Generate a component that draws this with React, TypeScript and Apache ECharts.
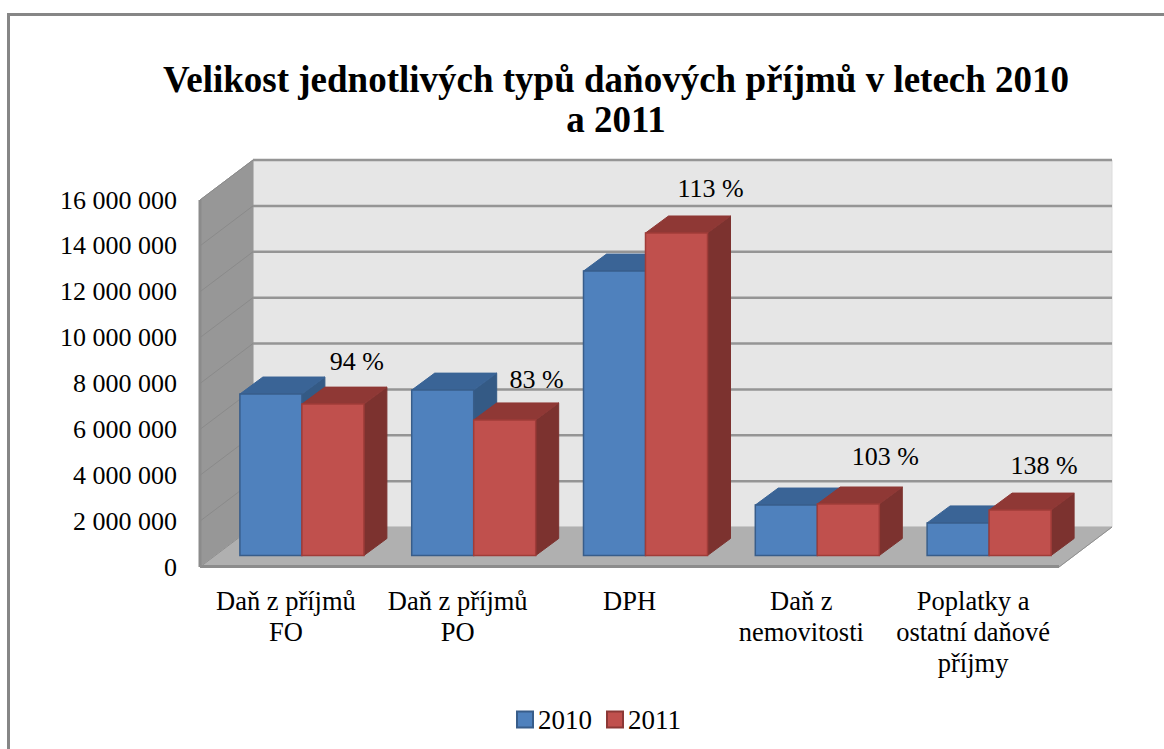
import React, { useEffect, useRef } from "react";
import * as echarts from "echarts";

const titleText = "Velikost jednotlivých typů daňových příjmů v letech 2010\na 2011";
const categories = ["Daň z příjmů\nFO", "Daň z příjmů\nPO", "DPH", "Daň z\nnemovitosti", "Poplatky a\nostatní daňové\npříjmy"];
const values2010 = [7040000, 7210000, 12400000, 2200000, 1420000];
const values2011 = [6600000, 5910000, 14060000, 2245000, 1980000];
const ratioLabels = ["94 %", "83 %", "113 %", "103 %", "138 %"];
const tickValues = [2000000, 4000000, 6000000, 8000000, 10000000, 12000000, 14000000, 16000000];

const labelOffsets = [[24, -43], [32, -40], [34, -44], [37, -48], [24, -45]];
const SERIF = "'Liberation Serif', 'Times New Roman', serif";
const BACK = { x: 53, y: -40 };
const PLANE = { x: 16, y: -11.5 };
const DEPTH = { x: 23, y: -17 };
const BAR_W = 62;

const fmt = (v: number) => String(v).replace(/\B(?=(\d{3})+$)/g, " ");

const poly = (points: number[][], fill: string, stroke?: string, lineWidth = 1) => ({
  type: "polygon",
  shape: { points },
  style: { fill, stroke: stroke || fill, lineWidth },
});

const wallItem = (params: any, api: any) => {
  const cs = params.coordSys;
  const l = cs.x, r = cs.x + cs.width, t = cs.y, b = cs.y + cs.height;
  const dx = BACK.x, dy = BACK.y;
  return {
    type: "group",
    children: [
      poly([[l + dx, t + dy], [r + dx, t + dy], [r + dx, b + dy], [l + dx, b + dy]], "#e6e6e6", "#dcdcdc"),
      poly([[l, t], [l + dx, t + dy], [l + dx, b + dy], [l, b]], "#979797", "#979797"),
      { type: "line", shape: { x1: l, y1: t, x2: l, y2: b }, style: { stroke: "#8b8b8b", lineWidth: 3 } },
      poly([[l, b], [l + dx, b + dy], [r + dx, b + dy], [r, b]], "#b0b0b0", "#b0b0b0"),
      { type: "line", shape: { x1: l, y1: b - 0.5, x2: r, y2: b - 0.5 }, style: { stroke: "#8c8c8c", lineWidth: 3 } },
      { type: "line", shape: { x1: l, y1: b, x2: l + dx, y2: b + dy }, style: { stroke: "#8f8f8f", lineWidth: 1 } },
      { type: "line", shape: { x1: r, y1: b, x2: r + dx, y2: b + dy }, style: { stroke: "#8f8f8f", lineWidth: 1 } },
    ],
  };
};

const gridItem = (params: any, api: any) => {
  const cs = params.coordSys;
  const p = api.coord([0, api.value(1)]);
  const l = cs.x, r = cs.x + cs.width, y = p[1];
  return {
    type: "group",
    children: [
      { type: "line", shape: { x1: l, y1: y, x2: l + BACK.x, y2: y + BACK.y }, style: { stroke: "#8a8a8a", lineWidth: 1 } },
      { type: "line", shape: { x1: l + BACK.x, y1: y + BACK.y, x2: r + BACK.x, y2: y + BACK.y }, style: { stroke: "#959595", lineWidth: 2.5 } },
    ],
  };
};

const barItem = (side: number, front: string, edge: string, top: string, flank: string) => (params: any, api: any) => {
  const c = api.coord([api.value(0), api.value(1)]);
  const z = api.coord([api.value(0), 0]);
  const x0 = c[0] + PLANE.x + (side < 0 ? -BAR_W : 0);
  const x1 = x0 + BAR_W;
  const yT = c[1] + PLANE.y;
  const yB = z[1] + PLANE.y;
  return {
    type: "group",
    children: [
      poly([[x1, yT], [x1 + DEPTH.x, yT + DEPTH.y], [x1 + DEPTH.x, yB + DEPTH.y], [x1, yB]], flank),
      poly([[x0, yT], [x0 + DEPTH.x, yT + DEPTH.y], [x1 + DEPTH.x, yT + DEPTH.y], [x1, yT]], top),
      poly([[x0, yT], [x1, yT], [x1, yB], [x0, yB]], front, edge, 1.5),
    ],
  };
};

const labelItem = (params: any, api: any) => {
  const i = params.dataIndex;
  const c = api.coord([api.value(0), api.value(1)]);
  return {
    type: "text",
    x: c[0] + PLANE.x + BAR_W / 2 + labelOffsets[i][0],
    y: c[1] + PLANE.y + labelOffsets[i][1],
    style: {
      text: ratioLabels[i],
      fontFamily: SERIF,
      fontSize: 26,
      fill: "#000",
      align: "center",
      verticalAlign: "middle",
    },
  };
};

export default function App() {
  const ref = useRef<HTMLDivElement>(null);
  useEffect(() => {
    const chart = echarts.init(ref.current!, null, { renderer: "svg" });
    const idx = categories.map((_, i) => i);
    chart.setOption({
      animation: false,
      backgroundColor: "#ffffff",
      title: {
        text: titleText,
        left: 611,
        top: 54,
        textAlign: "center",
        textStyle: { fontFamily: SERIF, fontWeight: "bold", fontSize: 37, lineHeight: 40, color: "#000" },
      },
      legend: {
        data: ["2010", "2011"],
        left: 511,
        top: 701,
        itemWidth: 16,
        itemHeight: 16,
        itemGap: 14,
        icon: "rect",
        textStyle: { fontFamily: SERIF, fontSize: 27, color: "#000" },
      },
      grid: { left: 200, top: 200, width: 859, height: 367, containLabel: false },
      xAxis: {
        type: "category",
        data: categories,
        axisLine: { show: false },
        axisTick: { show: false },
        axisLabel: { interval: 0, margin: 18, fontFamily: SERIF, fontSize: 26.5, lineHeight: 31, color: "#000" },
      },
      yAxis: {
        type: "value",
        min: 0,
        max: 16000000,
        interval: 2000000,
        axisLine: { show: false },
        axisTick: { show: false },
        splitLine: { show: false },
        axisLabel: { margin: 23, fontFamily: SERIF, fontSize: 26, color: "#000", formatter: fmt },
      },
      graphic: [
        { type: "polyline", silent: true, shape: { points: [[8.5, 760], [8.5, 14.5], [1170, 14.5]] }, style: { fill: "none", stroke: "#868686", lineWidth: 3 } },
      ],
      series: [
        { type: "custom", name: "walls", silent: true, renderItem: wallItem, data: [[0, 0]], encode: { x: 0, y: 1 }, z: 1 },
        { type: "custom", name: "grid", silent: true, renderItem: gridItem, data: tickValues.map((v) => [0, v]), encode: { x: 0, y: 1 }, z: 2 },
        {
          type: "custom", name: "2010", silent: true, z: 3,
          renderItem: barItem(-1, "#4f81bd", "#385d8a", "#3a6496", "#345a85"),
          itemStyle: { color: "#4f81bd", borderColor: "#385d8a", borderWidth: 2 },
          data: idx.map((i) => [i, values2010[i]]), encode: { x: 0, y: 1 },
        },
        {
          type: "custom", name: "2011", silent: true, z: 4,
          renderItem: barItem(1, "#c0504d", "#a03c39", "#8f3835", "#7c322f"),
          itemStyle: { color: "#c0504d", borderColor: "#8c3836", borderWidth: 2 },
          data: idx.map((i) => [i, values2011[i]]), encode: { x: 0, y: 1 },
        },
        { type: "custom", name: "labels", silent: true, z: 5, renderItem: labelItem, data: idx.map((i) => [i, values2011[i]]), encode: { x: 0, y: 1 } },
      ],
    });
    return () => chart.dispose();
  }, []);
  return <div ref={ref} style={{ position: "fixed", left: 0, top: 0, width: 1164, height: 749 }} />;
}
